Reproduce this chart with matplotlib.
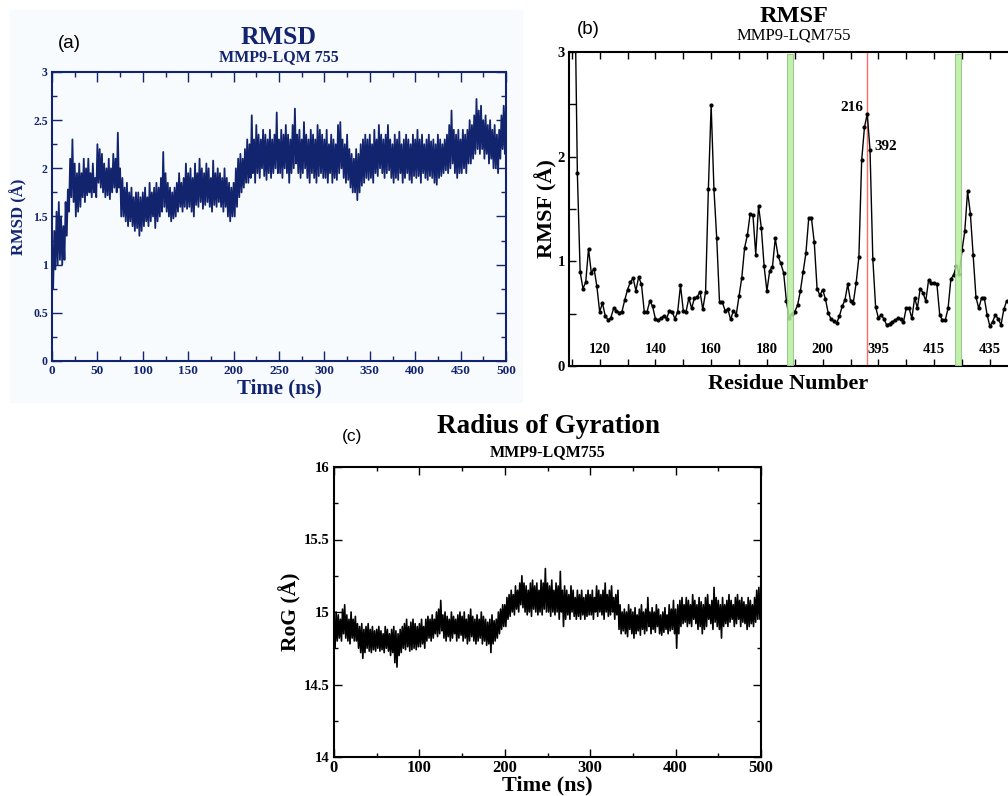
import numpy as np
import matplotlib.pyplot as plt
from matplotlib.patches import Rectangle
from matplotlib.ticker import MultipleLocator, FixedLocator, FuncFormatter

W, H = 1008, 796
NAVY = '#13246e'
SANS = 'Liberation Sans'

plt.rcParams['font.family'] = ['Liberation Serif', 'DejaVu Serif']
plt.rcParams['font.weight'] = 'bold'
plt.rcParams['axes.labelweight'] = 'bold'

# ---- (a) RMSD: spike tops every 2.5 ns, troughs in between ----
rmsd_hi = [0.9, 1.35, 1.55, 1.65, 1.5, 1.4, 1.65, 1.78, 2.1, 2.3, 2.05, 1.95, 2.05, 1.95, 2.1, 2.0, 2.1, 1.95, 2.05, 1.9,
           2.25, 2.2, 2.15, 2.05, 2.0, 2.1, 2.0, 2.15, 2.1, 2.37, 2.0, 1.9, 1.8, 1.85, 1.75, 1.8, 1.7, 1.75, 1.75, 1.7,
           1.75, 1.8, 1.7, 1.85, 1.75, 1.8, 1.85, 1.8, 1.9, 2.17, 1.95, 1.85, 1.8, 1.75, 1.8, 1.85, 1.95, 1.85, 1.9, 2.05,
           1.95, 2.0, 1.9, 2.05, 1.95, 2.1, 2.0, 1.95, 2.05, 2.0, 1.9, 2.08, 1.95, 2.0, 1.95, 1.9, 2.0, 1.9, 1.85, 1.8,
           1.85, 2.0, 2.1, 2.15, 2.1, 2.2, 2.3, 2.25, 2.55, 2.3, 2.45, 2.35, 2.3, 2.4, 2.35, 2.3, 2.4, 2.3, 2.35, 2.58,
           2.3, 2.4, 2.35, 2.45, 2.35, 2.3, 2.45, 2.62, 2.35, 2.4, 2.3, 2.48, 2.35, 2.3, 2.4, 2.35, 2.3, 2.45, 2.4, 2.35,
           2.3, 2.4, 2.25, 2.35, 2.3, 2.25, 2.45, 2.48, 2.3, 2.25, 2.35, 2.2, 2.15, 2.1, 2.2, 2.15, 2.25, 2.3, 2.35, 2.3,
           2.35, 2.25, 2.4, 2.3, 2.45, 2.35, 2.3, 2.35, 2.45, 2.3, 2.25, 2.35, 2.3, 2.38, 2.25, 2.3, 2.35, 2.3, 2.25, 2.35,
           2.3, 2.4, 2.3, 2.35, 2.25, 2.3, 2.35, 2.28, 2.3, 2.25, 2.35, 2.3, 2.25, 2.3, 2.35, 2.45, 2.6, 2.4, 2.35, 2.4,
           2.3, 2.4, 2.35, 2.4, 2.5, 2.45, 2.55, 2.72, 2.6, 2.65, 2.5, 2.55, 2.45, 2.5, 2.4, 2.45, 2.35, 2.4, 2.55, 2.65,
           2.7]
rmsd_lo = [0.75, 0.95, 1.0, 1.05, 1.0, 1.05, 1.3, 1.55, 1.7, 1.65, 1.5, 1.55, 1.6, 1.7, 1.65, 1.72, 1.75, 1.7, 1.75, 1.7,
           1.85, 1.8, 1.75, 1.7, 1.72, 1.68, 1.75, 1.8, 1.75, 1.8, 1.5, 1.5, 1.45, 1.4, 1.45, 1.4, 1.35, 1.38, 1.3, 1.35,
           1.4, 1.45, 1.4, 1.45, 1.5, 1.38, 1.45, 1.5, 1.55, 1.6, 1.55, 1.5, 1.45, 1.48, 1.5, 1.55, 1.6, 1.55, 1.6, 1.58,
           1.6, 1.55, 1.5, 1.62, 1.6, 1.65, 1.58, 1.62, 1.65, 1.6, 1.55, 1.62, 1.6, 1.65, 1.6, 1.55, 1.6, 1.5, 1.45, 1.5,
           1.5, 1.6, 1.7, 1.75, 1.8, 1.85, 1.85, 1.9, 1.95, 1.85, 1.95, 1.9, 2.0, 1.92, 1.88, 1.95, 1.9, 1.95, 2.0, 1.95,
           1.95, 1.9, 2.0, 1.95, 1.85, 1.95, 2.0, 2.05, 1.95, 1.9, 1.95, 2.0, 1.9, 1.85, 1.95, 1.9, 1.85, 1.92, 1.95, 1.9,
           1.9, 1.85, 1.95, 1.85, 1.9, 1.88, 1.95, 2.0, 1.9, 1.85, 1.88, 1.8, 1.75, 1.75, 1.67, 1.75, 1.82, 1.85, 1.9, 1.88,
           1.9, 1.85, 1.95, 1.92, 2.0, 1.95, 1.9, 1.95, 1.98, 1.9, 1.85, 1.9, 1.88, 1.95, 1.85, 1.9, 1.95, 1.88, 1.85, 1.92,
           1.9, 1.92, 1.85, 1.95, 1.9, 1.88, 1.92, 1.9, 1.85, 1.83, 1.9, 1.92, 1.95, 1.98, 1.95, 2.0, 2.05, 1.95, 1.9, 1.95,
           1.95, 2.0, 1.95, 2.05, 2.05, 2.1, 2.15, 2.2, 2.15, 2.2, 2.1, 2.15, 2.05, 2.1, 2.0, 2.0, 1.95, 2.1, 2.2, 2.15]

# ---- (b) RMSF per residue (110s-216 then 392-441 on one running axis) ----
res_a = list(range(111, 217))
rmsf_a = [3.8, 1.84, 0.90, 0.74, 0.80, 1.12, 0.89, 0.93, 0.76, 0.52,
          0.60, 0.48, 0.44, 0.46, 0.55, 0.53, 0.51, 0.52, 0.63, 0.73,
          0.80, 0.84, 0.72, 0.85, 0.78, 0.52, 0.52, 0.62, 0.57, 0.45,
          0.44, 0.455, 0.48, 0.45, 0.53, 0.52, 0.45, 0.52, 0.77, 0.53,
          0.52, 0.65, 0.55, 0.65, 0.66, 0.71, 0.54, 0.71, 1.69, 2.49,
          1.69, 1.22, 0.61, 0.61, 0.53, 0.54, 0.445, 0.53, 0.49, 0.665,
          0.845, 1.13, 1.25, 1.455, 1.44, 1.065, 1.53, 1.32, 0.955, 0.715,
          0.91, 0.95, 1.22, 1.05, 0.98, 0.89, 0.62, 0.46, 0.50, 0.52,
          0.58, 0.715, 0.90, 1.08, 1.41, 1.41, 1.18, 0.74, 0.675, 0.73,
          0.64, 0.505, 0.45, 0.43, 0.41, 0.475, 0.57, 0.63, 0.78, 0.62,
          0.605, 0.79, 1.04, 1.965, 2.28, 2.41]
res_b = list(range(392, 442))
rmsf_b = [2.06, 1.025, 0.565, 0.46, 0.485, 0.45, 0.39, 0.405, 0.425, 0.435,
          0.46, 0.45, 0.42, 0.555, 0.555, 0.455, 0.65, 0.555, 0.74, 0.70,
          0.62, 0.82, 0.79, 0.79, 0.78, 0.49, 0.435, 0.44, 0.55, 0.83,
          0.87, 0.96, 0.875, 1.105, 1.29, 1.67, 1.455, 1.065, 0.66, 0.55,
          0.65, 0.65, 0.49, 0.38, 0.425, 0.49, 0.445, 0.395, 0.54, 0.62]
gap = 392 - 217
rmsf_ticks = [120, 140, 160, 180, 200, 395, 415, 435]
green_bands = [(187.15, 189.4), (247.5, 249.8)]
red_line = 216

# ---- (c) Radius of gyration, tops every 2.5 ns, troughs in between ----
rog_hi = [14.95, 15.0, 14.98, 14.95, 15.02, 15.05, 14.98, 14.95, 15.0, 14.95, 14.97, 14.92, 14.9, 14.92, 14.88, 14.9, 14.92, 14.88, 14.9, 14.87,
          14.88, 14.9, 14.87, 14.85, 14.9, 14.88, 14.85, 14.88, 14.9, 14.87, 14.85, 14.88, 14.9, 14.92, 14.95, 14.9, 14.93, 14.95, 14.92, 14.9,
          14.92, 14.95, 14.9, 14.95, 14.97, 14.95, 14.98, 14.95, 15.0, 15.02, 15.08, 14.98, 15.0, 14.97, 14.95, 15.0, 14.97, 14.95, 14.98, 15.0,
          14.97, 15.0, 14.95, 14.98, 15.02, 14.97, 14.95, 14.98, 14.95, 15.0, 14.97, 14.95, 14.93, 14.95, 14.98, 14.94, 14.95, 15.0, 15.02, 15.05,
          15.05, 15.1, 15.12, 15.15, 15.12, 15.18, 15.15, 15.2, 15.25, 15.2, 15.18, 15.15, 15.2, 15.22, 15.18, 15.2, 15.15, 15.22, 15.2, 15.3,
          15.2, 15.18, 15.22, 15.15, 15.2, 15.18, 15.28, 15.15, 15.18, 15.15, 15.12, 15.18, 15.15, 15.1, 15.15, 15.12, 15.15, 15.1, 15.12, 15.15,
          15.12, 15.15, 15.1, 15.18, 15.15, 15.12, 15.15, 15.2, 15.12, 15.15, 15.18, 15.1, 15.12, 15.15, 15.05, 15.0, 15.02, 15.0, 15.05, 15.02,
          15.0, 15.03, 14.98, 15.02, 15.05, 15.0, 15.02, 15.1, 15.0, 15.03, 15.0, 15.05, 15.02, 14.98, 15.0, 15.03, 14.98, 15.05, 15.02, 15.08,
          15.02, 15.05, 15.08, 15.1, 15.05, 15.1, 15.08, 15.05, 15.12, 15.08, 15.05, 15.1, 15.07, 15.05, 15.1, 15.12, 15.05, 15.08, 15.17, 15.1,
          15.08, 15.05, 15.1, 15.05, 15.08, 15.12, 15.08, 15.05, 15.1, 15.12, 15.08, 15.1, 15.07, 15.05, 15.1, 15.08, 15.05, 15.1, 15.15, 15.17,
          15.15]
rog_lo = [14.75, 14.8, 14.82, 14.8, 14.85, 14.82, 14.8, 14.78, 14.82, 14.8, 14.8, 14.75, 14.72, 14.68, 14.72, 14.75, 14.73, 14.72, 14.74, 14.73,
          14.75, 14.73, 14.74, 14.72, 14.75, 14.73, 14.7, 14.72, 14.65, 14.62, 14.7, 14.72, 14.75, 14.74, 14.76, 14.73, 14.74, 14.75, 14.74, 14.76,
          14.76, 14.78, 14.75, 14.8, 14.82, 14.8, 14.82, 14.85, 14.83, 14.85, 14.87, 14.82, 14.8, 14.83, 14.8, 14.82, 14.85, 14.8, 14.82, 14.84,
          14.8, 14.82, 14.78, 14.8, 14.83, 14.8, 14.78, 14.8, 14.82, 14.78, 14.8, 14.77, 14.78, 14.72, 14.78, 14.8, 14.82, 14.85, 14.88, 14.9,
          14.9, 14.95, 14.97, 15.0, 14.98, 15.02, 15.0, 15.05, 15.03, 15.0, 14.98, 15.0, 14.97, 15.02, 15.0, 14.98, 15.0, 14.98, 15.02, 15.0,
          15.0, 14.97, 15.0, 14.98, 15.0, 14.95, 15.0, 14.9, 14.95, 14.98, 14.95, 15.0, 14.97, 14.95, 14.97, 14.95, 14.98, 14.95, 14.97, 14.98,
          14.98, 14.95, 15.0, 14.97, 15.0, 14.98, 14.95, 15.0, 14.97, 14.98, 15.0, 14.95, 14.98, 14.88, 14.85, 14.87, 14.85, 14.83, 14.88, 14.85,
          14.82, 14.85, 14.87, 14.84, 14.88, 14.85, 14.87, 14.9, 14.85, 14.88, 14.86, 14.9, 14.85, 14.84, 14.86, 14.88, 14.85, 14.87, 14.88, 14.85,
          14.75, 14.85, 14.9, 14.92, 14.93, 14.9, 14.92, 14.9, 14.95, 14.92, 14.88, 14.9, 14.85, 14.88, 14.9, 14.95, 14.92, 14.88, 14.93, 14.9,
          14.88, 14.82, 14.9, 14.92, 14.9, 14.93, 14.95, 14.9, 14.92, 14.95, 14.9, 14.93, 14.92, 14.88, 14.9, 14.92, 14.9, 14.93, 14.95, 14.95]


def zigzag(hi, lo, step=2.5):
    # tops at t, troughs half a step later
    t_hi = np.arange(len(hi)) * step
    x = np.empty(len(hi) + len(lo))
    y = np.empty(len(hi) + len(lo))
    x[0::2], y[0::2] = t_hi, hi
    x[1::2], y[1::2] = t_hi[:len(lo)] + step / 2, lo
    return x, y


def box(l, t, r, b):
    return [l / W, 1 - b / H, (r - l) / W, (b - t) / H]


def ftext(x, y, s, **kw):
    fig.text(x / W, 1 - y / H, s, ha='center', va='center', **kw)


fmt_g = FuncFormatter(lambda v, p: f'{v:g}')

fig = plt.figure(figsize=(W / 100, H / 100), dpi=100)
fig.patches.append(Rectangle((10 / W, 1 - 402 / H), 512 / W, 392 / H, transform=fig.transFigure,
                             color='#f8fbfe', zorder=-10))

# ---------- (a) ----------
ax = fig.add_axes(box(52, 72, 506, 361))
ax.set_facecolor('#f8fbfe')
x, y = zigzag(rmsd_hi, rmsd_lo)
ax.plot(x, y, color=NAVY, lw=1.3)
ax.set_xlim(0, 500)
ax.set_ylim(0, 3)
ax.xaxis.set_major_locator(MultipleLocator(50))
ax.xaxis.set_minor_locator(MultipleLocator(25))
ax.yaxis.set_major_locator(MultipleLocator(0.5))
ax.yaxis.set_minor_locator(MultipleLocator(0.25))
ax.yaxis.set_major_formatter(fmt_g)
ax.tick_params(which='both', direction='in', top=True, right=True, color=NAVY, labelcolor=NAVY, width=1)
ax.tick_params(which='major', length=7, pad=3)
ax.tick_params(which='minor', length=3.5)
ax.tick_params(axis='x', which='major', labelsize=9.5)
ax.tick_params(axis='y', which='major', labelsize=8.5)
for s in ax.spines.values():
    s.set_color(NAVY)
    s.set_linewidth(1.5)
ax.set_xlabel('Time (ns)', fontsize=15, color=NAVY, labelpad=1)
ax.set_ylabel('RMSD (Å)', fontsize=12, color=NAVY, labelpad=4)
ftext(69, 44, '(a)', family=SANS, weight='normal', fontsize=13.5)
ftext(279, 38, 'RMSD', fontsize=18.5, color=NAVY)
ftext(279, 57, 'MMP9-LQM 755', fontsize=11.5, color=NAVY)

# ---------- (b) ----------
ax = fig.add_axes(box(569, 52, 1008, 366))
pos = np.array(res_a + [r - gap for r in res_b])
vals = np.array(rmsf_a + rmsf_b)
ax.axvline(red_line, color='#ff6b6b', lw=1, zorder=1.5)
ax.plot(pos, vals, color='black', lw=1, marker='o', ms=2, zorder=2)
for a, b in green_bands:
    ax.axvspan(a, b, ymin=0, ymax=0.995, fc='#b6f09e', ec='#98bf88', lw=0.8, alpha=0.85, zorder=3)
ax.annotate('216', xy=(216, 2.41), xytext=(-4, 6), textcoords='offset pixels',
            ha='right', va='center', fontsize=11)
ax.annotate('392', xy=(217, 2.06), xytext=(4, 4), textcoords='offset pixels',
            ha='left', va='center', fontsize=11)
ax.set_xlim(109, 266.5)
ax.set_ylim(0, 3)
tick_pos = [t if t < 392 else t - gap for t in rmsf_ticks]
ax.xaxis.set_major_locator(FixedLocator(tick_pos))
ax.set_xticklabels([str(t) for t in rmsf_ticks])
ax.xaxis.set_minor_locator(MultipleLocator(10))
ax.yaxis.set_major_locator(MultipleLocator(1))
ax.yaxis.set_minor_locator(MultipleLocator(0.5))
ax.tick_params(which='both', direction='in', top=True, right=False, length=5, width=1)
ax.tick_params(axis='x', which='major', labelsize=10.5, pad=-16.5)
ax.tick_params(axis='y', which='major', labelsize=10.5, pad=3)
ax.spines['right'].set_visible(False)
for s in ['left', 'top', 'bottom']:
    ax.spines[s].set_linewidth(1.5)
ax.set_xlabel('Residue Number', fontsize=16, labelpad=2)
ax.set_ylabel('RMSF (Å)', fontsize=16, labelpad=0)
ftext(588, 30, '(b)', family=SANS, weight='normal', fontsize=13.5)
ftext(794, 17, 'RMSF', fontsize=17.5)
ftext(794, 35, 'MMP9-LQM755', fontsize=12, weight='normal')

# ---------- (c) ----------
ax = fig.add_axes(box(334, 467, 761, 757))
x, y = zigzag(rog_hi, rog_lo)
ax.plot(x, y, color='black', lw=1.2)
ax.set_xlim(0, 500)
ax.set_ylim(14, 16)
ax.xaxis.set_major_locator(MultipleLocator(100))
ax.xaxis.set_minor_locator(MultipleLocator(50))
ax.yaxis.set_major_locator(MultipleLocator(0.5))
ax.yaxis.set_minor_locator(MultipleLocator(0.25))
ax.yaxis.set_major_formatter(fmt_g)
ax.tick_params(which='both', direction='in', top=True, right=True, width=1)
ax.tick_params(which='major', length=6)
ax.tick_params(which='minor', length=3)
ax.tick_params(axis='x', which='major', labelsize=12, pad=2)
ax.tick_params(axis='y', which='major', labelsize=10.5, pad=3)
for s in ax.spines.values():
    s.set_linewidth(1.5)
ax.set_xlabel('Time (ns)', fontsize=16, labelpad=0)
ax.set_ylabel('RoG (Å)', fontsize=15.5, labelpad=2)
ftext(352, 437, '(c)', family=SANS, weight='normal', fontsize=12.5)
ftext(548, 426, 'Radius of Gyration', fontsize=19.5)
ftext(548, 452, 'MMP9-LQM755', fontsize=11.5)

fig.savefig('out.png', dpi=100)
